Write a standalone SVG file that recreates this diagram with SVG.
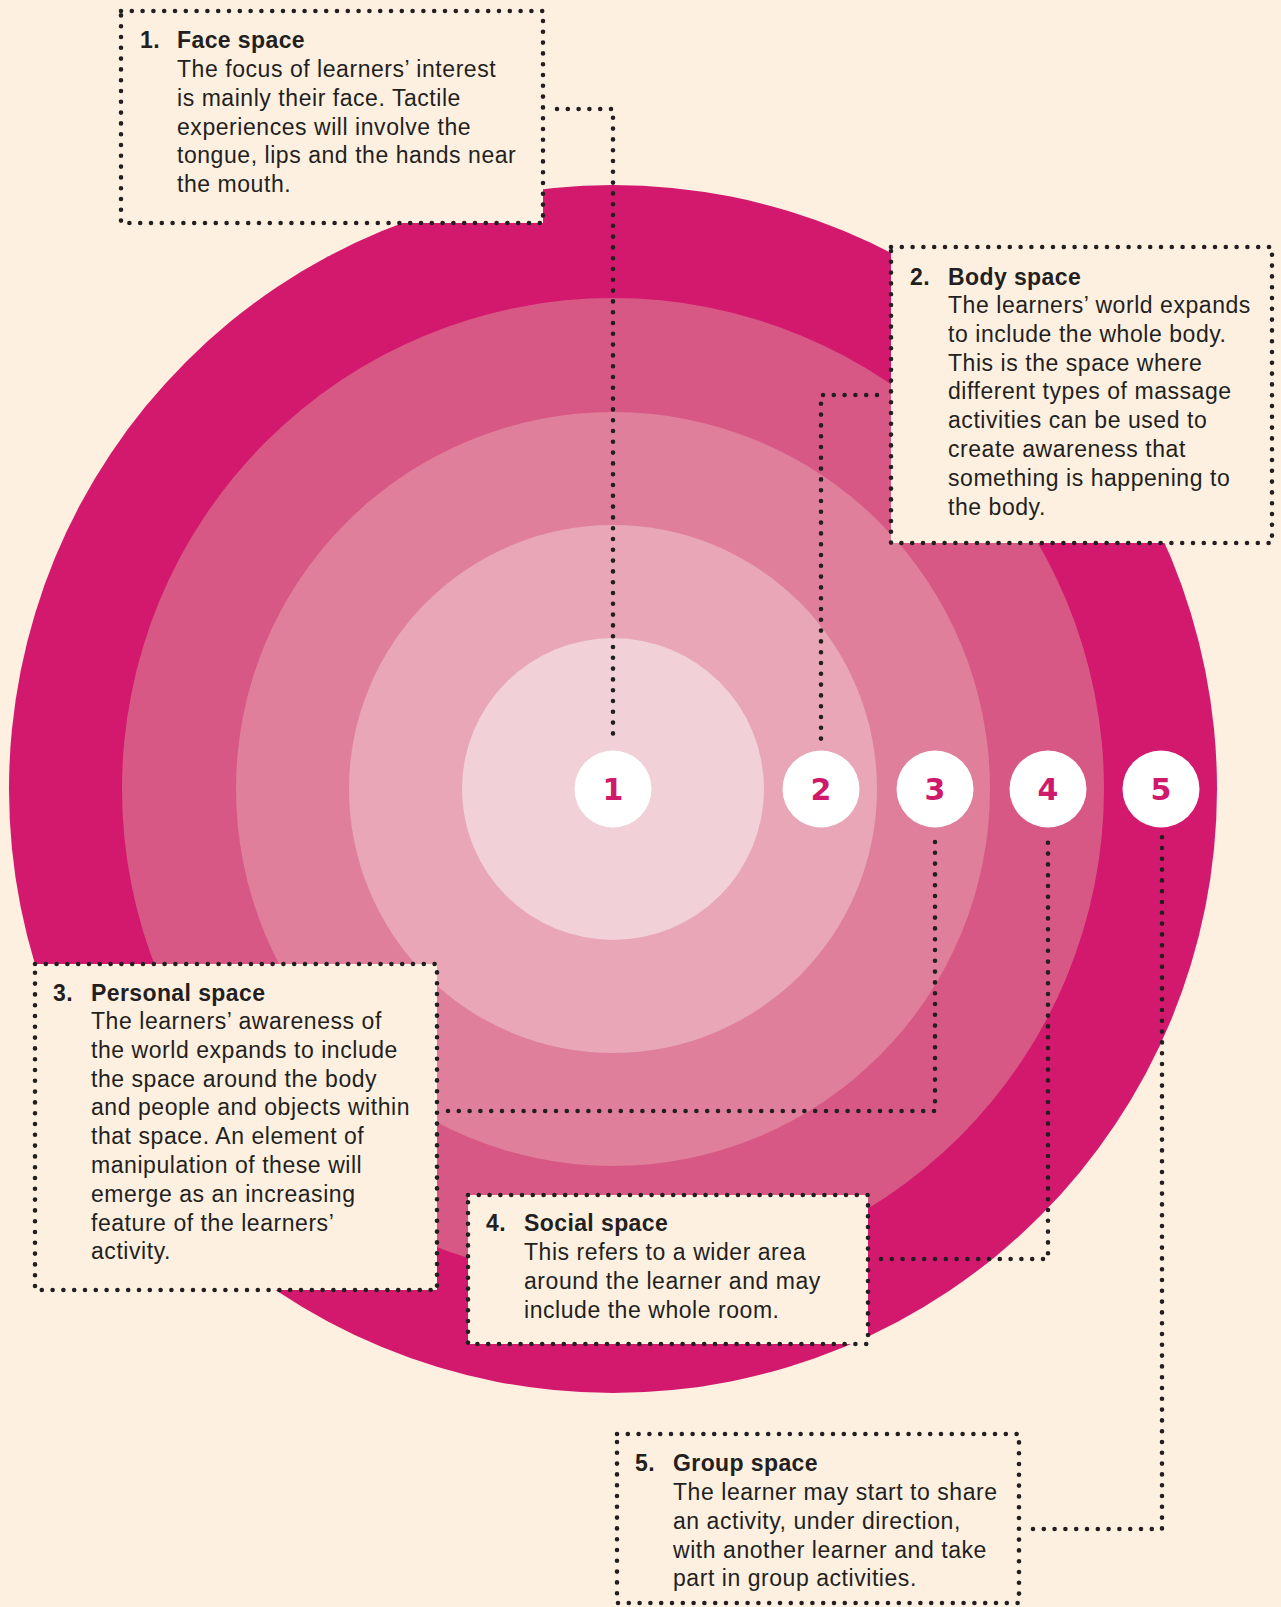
<svg xmlns="http://www.w3.org/2000/svg" width="1281" height="1607" viewBox="0 0 1281 1607">
<style>
.bg{fill:#fdf0e1}
.box{fill:#fdf0e1;stroke:#231f20;stroke-width:4.6;stroke-linecap:round;stroke-dasharray:0 10.8}
.conn{fill:none;stroke:#231f20;stroke-width:4.6;stroke-linecap:round;stroke-dasharray:0 10.8}
.t{font-family:"Liberation Sans",Arial,sans-serif;font-size:23px;letter-spacing:0.55px;fill:#231f20}
.b{font-weight:bold;letter-spacing:0.4px}
.numc{fill:#ffffff}
.num{font-family:"DejaVu Sans",sans-serif;font-size:30px;font-weight:bold;fill:#cf1a6b;text-anchor:middle}
</style>
<rect class="bg" x="0" y="0" width="1281" height="1607"/>
<g id="rings">
<circle cx="613" cy="789" r="604" fill="#d2196e"/>
<circle cx="613" cy="789" r="491" fill="#d75884"/>
<circle cx="613" cy="789" r="377" fill="#df7f9b"/>
<circle cx="613" cy="789" r="264" fill="#e8a6b7"/>
<circle cx="613" cy="789" r="151" fill="#f1d0d8"/>
</g>
<g id="connectors">
<polyline class="conn" points="557,109 613,109 613,740"/>
<polyline class="conn" points="877,395 821,395 821,740"/>
<polyline class="conn" points="448,1111 935,1111 935,837"/>
<polyline class="conn" points="881,1259 1048,1259 1048,837"/>
<polyline class="conn" points="1033,1529 1162,1529 1162,837"/>
</g>
<g id="n1"><circle class="numc" cx="613" cy="789" r="38.5"/><text class="num" x="613" y="800">1</text></g>
<g id="n2"><circle class="numc" cx="821" cy="789" r="38.5"/><text class="num" x="821" y="800">2</text></g>
<g id="n3"><circle class="numc" cx="935" cy="789" r="38.5"/><text class="num" x="935" y="800">3</text></g>
<g id="n4"><circle class="numc" cx="1048" cy="789" r="38.5"/><text class="num" x="1048" y="800">4</text></g>
<g id="n5"><circle class="numc" cx="1161" cy="789" r="38.5"/><text class="num" x="1161" y="800">5</text></g>
<g id="box1">
<rect class="box" x="121" y="11" width="422" height="212"/>
<text class="t b" x="140" y="48">1.</text>
<text class="t b" x="177" y="48">Face space</text>
<text class="t" x="177" y="77">The focus of learners’ interest<tspan x="177" dy="28.8">is mainly their face. Tactile</tspan><tspan x="177" dy="28.8">experiences will involve the</tspan><tspan x="177" dy="28.8">tongue, lips and the hands near</tspan><tspan x="177" dy="28.8">the mouth.</tspan></text>
</g>
<g id="box2">
<rect class="box" x="891" y="247" width="381" height="296"/>
<text class="t b" x="910" y="285">2.</text>
<text class="t b" x="948" y="285">Body space</text>
<text class="t" x="948" y="313">The learners’ world expands<tspan x="948" dy="28.8">to include the whole body.</tspan><tspan x="948" dy="28.8">This is the space where</tspan><tspan x="948" dy="28.8">different types of massage</tspan><tspan x="948" dy="28.8">activities can be used to</tspan><tspan x="948" dy="28.8">create awareness that</tspan><tspan x="948" dy="28.8">something is happening to</tspan><tspan x="948" dy="28.8">the body.</tspan></text>
</g>
<g id="box3">
<rect class="box" x="35" y="964" width="402" height="326"/>
<text class="t b" x="53" y="1001">3.</text>
<text class="t b" x="91" y="1001">Personal space</text>
<text class="t" x="91" y="1029">The learners’ awareness of<tspan x="91" dy="28.8">the world expands to include</tspan><tspan x="91" dy="28.8">the space around the body</tspan><tspan x="91" dy="28.8">and people and objects within</tspan><tspan x="91" dy="28.8">that space. An element of</tspan><tspan x="91" dy="28.8">manipulation of these will</tspan><tspan x="91" dy="28.8">emerge as an increasing</tspan><tspan x="91" dy="28.8">feature of the learners’</tspan><tspan x="91" dy="28.8">activity.</tspan></text>
</g>
<g id="box4">
<rect class="box" x="468" y="1195" width="400" height="149"/>
<text class="t b" x="486" y="1231">4.</text>
<text class="t b" x="524" y="1231">Social space</text>
<text class="t" x="524" y="1260">This refers to a wider area<tspan x="524" dy="28.8">around the learner and may</tspan><tspan x="524" dy="28.8">include the whole room.</tspan></text>
</g>
<g id="box5">
<rect class="box" x="617" y="1434" width="402" height="169"/>
<text class="t b" x="635" y="1471">5.</text>
<text class="t b" x="673" y="1471">Group space</text>
<text class="t" x="673" y="1500">The learner may start to share<tspan x="673" dy="28.8">an activity, under direction,</tspan><tspan x="673" dy="28.8">with another learner and take</tspan><tspan x="673" dy="28.8">part in group activities.</tspan></text>
</g>
</svg>
